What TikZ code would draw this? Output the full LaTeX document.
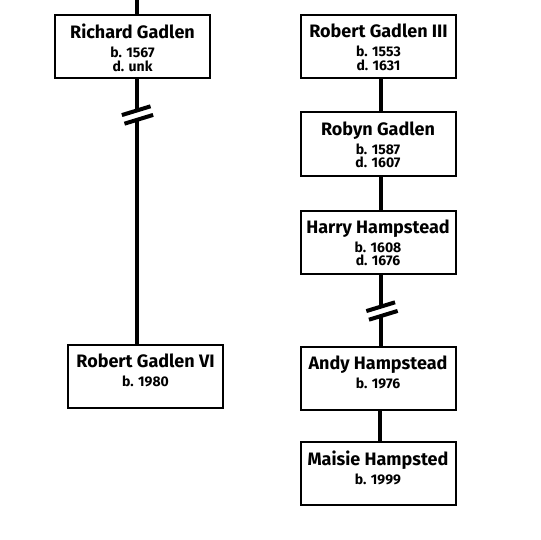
\documentclass[tikz,border=0pt]{standalone}
\usepackage{fontspec}
\setmainfont{Fira Sans}
\usetikzlibrary{positioning}
\tikzstyle{pbox}=[draw,rectangle,line width=2pt,minimum width=155pt,minimum height=63pt,inner sep=0pt]
\tikzstyle{ptext}=[align=center,inner sep=0pt,font=\bfseries\fontsize{14}{16}\selectfont]
\tikzstyle{link}=[line width=4pt]
\def\nm#1{{\fontsize{18}{20}\selectfont #1}}
\def\brk#1{\begin{scope}[shift={#1},rotate=17]
    \fill[white] (-13,-4.5) rectangle (13,4.5);
    \draw[link] (-15,-4.5) -- (15,-4.5);
    \draw[link] (-15,4.5) -- (15,4.5);
  \end{scope}}

\begin{document}
\begin{tikzpicture}[x=1pt,y=-1pt]
      \useasboundingbox (0,0) rectangle (540,540);
      \coordinate (lcol) at (137,0);
      \coordinate (rcol) at (381,0);

      % left line
      \node [pbox] (RG) at (132.5,46.5) {};
      \node [pbox] (RV) at (145.5,376) {};
      % right line
      \node [pbox] (R3) at (378.5,46.5) {};
      \node [pbox] (RB) at (378,144) {};
      \node [pbox] (HH) at (378,242) {};
      \node [pbox] (AH) at (378,378.5) {};
      \node [pbox] (MH) at (378,473.5) {};

      \node [ptext, below=10pt of RG.north] (tRG) {\nm{Richard Gadlen}\\[3pt] b. 1567\\[-2.5pt] d. unk};
      \node [ptext, below=10pt of RV.north] (tRV) {\nm{Robert Gadlen VI}\\[3pt] b. 1980};
      \node [ptext, below=10pt of R3.north] (tR3) {\nm{Robert Gadlen III}\\[3pt] b. 1553\\[-2.5pt] d. 1631};
      \node [ptext, below=10pt of RB.north] (tRB) {\nm{Robyn Gadlen}\\[3pt] b. 1587\\[-2.5pt] d. 1607};
      \node [ptext, below=10pt of HH.north] (tHH) {\nm{Harry Hampstead}\\[3pt] b. 1608\\[-2.5pt] d. 1676};
      \node [ptext, below=10pt of AH.north] (tAH) {\nm{Andy Hampstead}\\[3pt] b. 1976};
      \node [ptext, below=10pt of MH.north] (tMH) {\nm{Maisie Hampsted}\\[3pt] b. 1999};

      \draw [link] (lcol) -- (RG.north -| lcol);
      \draw [link] (RG.south -| lcol) -- (RV.north -| lcol);
      \draw [link] (R3.south -| rcol) -- (RB.north -| rcol);
      \draw [link] (RB.south -| rcol) -- (HH.north -| rcol);
      \draw [link] (HH.south -| rcol) -- (AH.north -| rcol);
      \draw [link] ([xshift=-1pt]AH.south -| rcol) -- ([xshift=-1pt]MH.north -| rcol);

      \brk{(137.5,115)}
      \brk{(382,311)}
\end{tikzpicture}
\end{document}
